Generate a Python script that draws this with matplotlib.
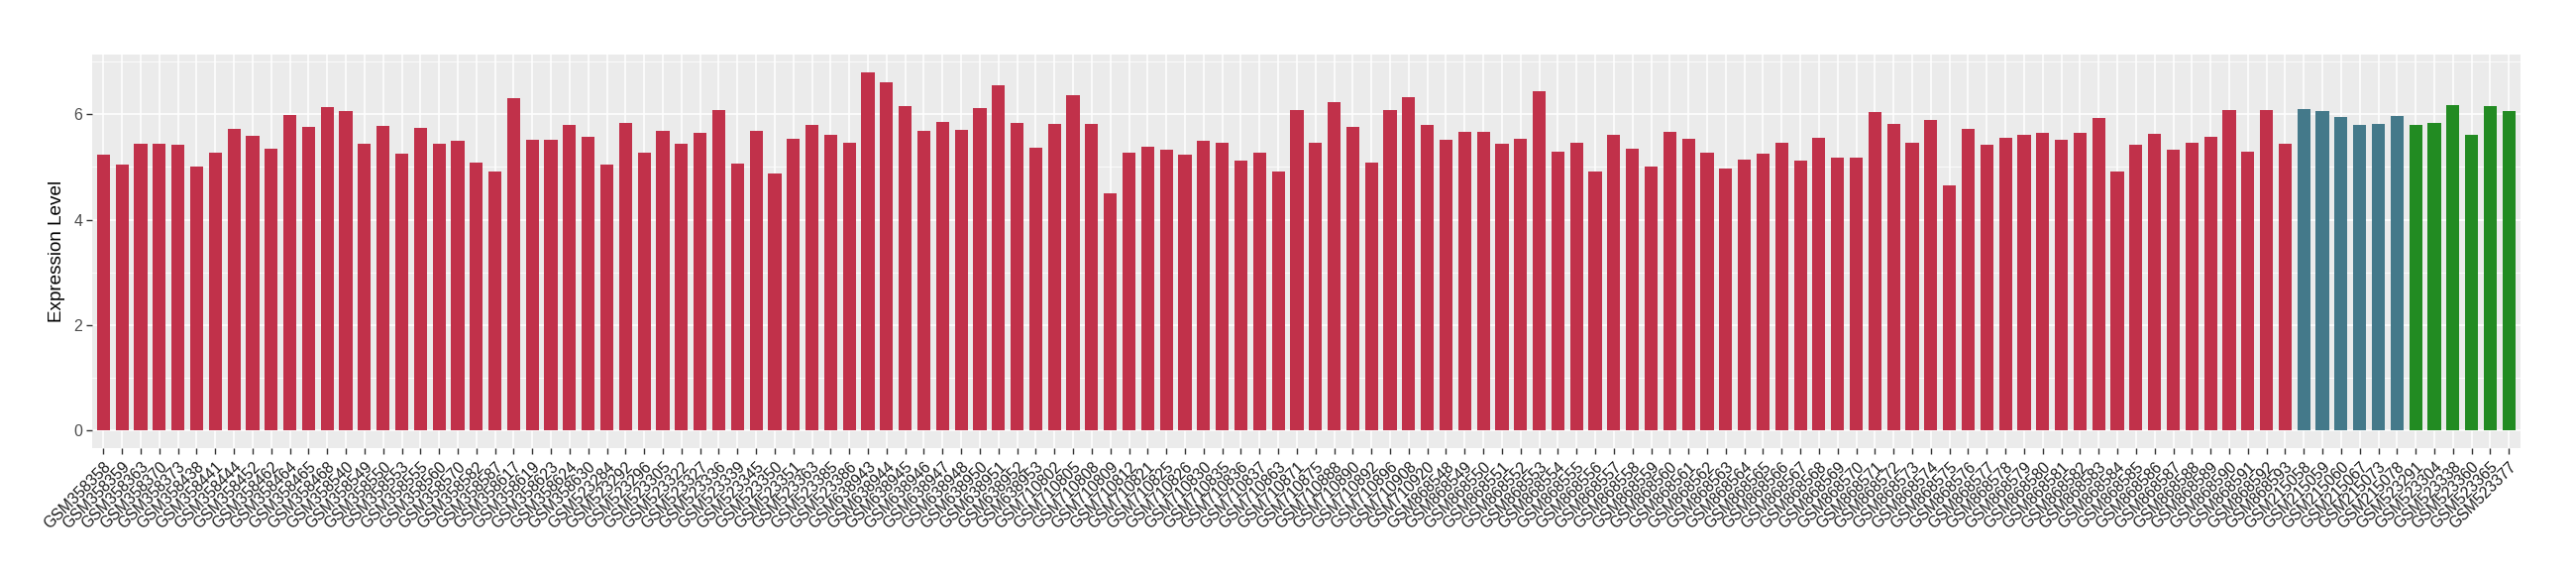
import matplotlib
matplotlib.use("Agg")
import matplotlib.pyplot as plt
from matplotlib.ticker import MultipleLocator

# sample ids, three groups
red_ids = ["GSM358358", "GSM358359", "GSM358363", "GSM358370", "GSM358373", "GSM358438",
           "GSM358441", "GSM358444", "GSM358452", "GSM358462", "GSM358464", "GSM358465",
           "GSM358468", "GSM358540", "GSM358549", "GSM358550", "GSM358553", "GSM358555",
           "GSM358560", "GSM358570", "GSM358582", "GSM358587", "GSM358617", "GSM358619",
           "GSM358623", "GSM358624", "GSM358630",
           "GSM523284", "GSM523292", "GSM523296", "GSM523305", "GSM523322", "GSM523327",
           "GSM523336", "GSM523339", "GSM523345", "GSM523350", "GSM523351", "GSM523363",
           "GSM523385", "GSM523386",
           "GSM638943", "GSM638944", "GSM638945", "GSM638946", "GSM638947", "GSM638948",
           "GSM638950", "GSM638951", "GSM638952", "GSM638953",
           "GSM710802", "GSM710805", "GSM710808", "GSM710809", "GSM710812", "GSM710821",
           "GSM710825", "GSM710826", "GSM710830", "GSM710835", "GSM710836", "GSM710837",
           "GSM710863", "GSM710871", "GSM710875", "GSM710888", "GSM710890", "GSM710892",
           "GSM710896", "GSM710908", "GSM710920",
           "GSM868548", "GSM868549", "GSM868550", "GSM868551", "GSM868552", "GSM868553",
           "GSM868554", "GSM868555", "GSM868556", "GSM868557", "GSM868558", "GSM868559",
           "GSM868560", "GSM868561", "GSM868562", "GSM868563", "GSM868564", "GSM868565",
           "GSM868566", "GSM868567", "GSM868568", "GSM868569", "GSM868570", "GSM868571",
           "GSM868572", "GSM868573", "GSM868574", "GSM868575", "GSM868576", "GSM868577",
           "GSM868578", "GSM868579", "GSM868580", "GSM868581", "GSM868582", "GSM868583",
           "GSM868584", "GSM868585", "GSM868586", "GSM868587", "GSM868588", "GSM868589",
           "GSM868590", "GSM868591", "GSM868592", "GSM868593"]
blue_ids = ["GSM215058", "GSM215059", "GSM215060", "GSM215067", "GSM215073", "GSM215078"]
green_ids = ["GSM523291", "GSM523304", "GSM523338", "GSM523360", "GSM523365", "GSM523377"]

red_vals = [5.23, 5.04, 5.44, 5.44, 5.42, 5.00, 5.28, 5.72, 5.59, 5.34, 5.99, 5.76,
            6.14, 6.06, 5.44, 5.78, 5.25, 5.74, 5.44, 5.49, 5.09, 4.91, 6.31, 5.51,
            5.51, 5.80, 5.57,
            5.04, 5.84, 5.27, 5.68, 5.44, 5.65, 6.08, 5.06, 5.68, 4.87, 5.53, 5.80,
            5.61, 5.46,
            6.80, 6.61, 6.16, 5.68, 5.85, 5.70, 6.12, 6.56, 5.84, 5.36,
            5.82, 6.37, 5.82, 4.51, 5.27, 5.38, 5.32, 5.23, 5.49, 5.46, 5.13, 5.27,
            4.91, 6.08, 5.47, 6.23, 5.76, 5.09, 6.08, 6.33, 5.80,
            5.51, 5.66, 5.66, 5.44, 5.53, 6.44, 5.30, 5.47, 4.92, 5.61, 5.34, 5.00,
            5.66, 5.53, 5.28, 4.98, 5.15, 5.25, 5.47, 5.13, 5.55, 5.17, 5.17, 6.04,
            5.82, 5.46, 5.89, 4.66, 5.72, 5.42, 5.55, 5.61, 5.65, 5.51, 5.65, 5.93,
            4.92, 5.42, 5.63, 5.32, 5.46, 5.57, 6.08, 5.30, 6.08, 5.44]
blue_vals = [6.10, 6.06, 5.95, 5.80, 5.82, 5.97]
green_vals = [5.80, 5.84, 6.18, 5.61, 6.16, 6.06]

plt.rcParams['font.family'] = ['Liberation Sans', 'DejaVu Sans']

labels = red_ids + blue_ids + green_ids
values = red_vals + blue_vals + green_vals
colors = ['#C1314A'] * len(red_vals) + ['#44798A'] * len(blue_vals) + ['#228B22'] * len(green_vals)
x = list(range(len(labels)))

fig = plt.figure(figsize=(26, 5.8), dpi=100)
ax = fig.add_axes([0.0358, 0.2205, 0.9425, 0.685])
ax.set_facecolor('#EBEBEB')

ax.bar(x, values, width=0.7, color=colors, zorder=3)

# ggplot style expansion
top = max(values) * 1.05
ax.set_xlim(-0.6, len(labels) - 0.4)
ax.set_ylim(-max(values) * 0.05, top)

ax.set_xticks(x)
ax.set_xticklabels(labels, rotation=45, ha='right', va='top', rotation_mode='anchor', fontsize=11.3)
ax.yaxis.set_major_locator(MultipleLocator(2))
ax.yaxis.set_minor_locator(MultipleLocator(1))
ax.tick_params(axis='y', labelsize=11.5, colors='#333333', labelcolor='#4D4D4D', length=4, width=1, pad=3)
ax.tick_params(axis='x', colors='#333333', labelcolor='#1A1A1A', length=4, width=1, pad=4)
ax.tick_params(axis='y', which='minor', length=0)

ax.grid(True, which='major', color='white', linewidth=1.1, zorder=0)
ax.grid(True, which='minor', axis='y', color='white', linewidth=0.55, zorder=0)
ax.set_axisbelow(True)
for s in ax.spines.values():
    s.set_visible(False)

ax.set_ylabel('Expression Level', fontsize=13.6, labelpad=6)

fig.savefig('out.png', dpi=100)
